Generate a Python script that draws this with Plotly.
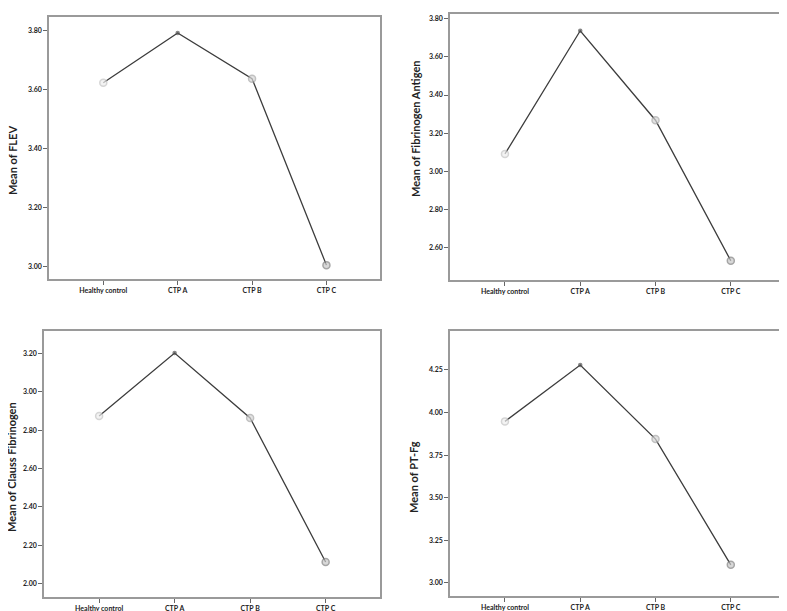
import plotly.graph_objects as go

categories = ["Healthy control", "CTP A", "CTP B", "CTP C"]

flev = [3.622, 3.791, 3.636, 3.004]
fib_antigen = [3.091, 3.737, 3.268, 2.531]
clauss_fib = [2.873, 3.202, 2.863, 2.112]
pt_fg = [3.948, 4.279, 3.844, 3.105]

titles = ["Mean of FLEV", "Mean of Fibrinogen Antigen",
          "Mean of Clauss Fibrinogen", "Mean of PT-Fg"]
series = [flev, fib_antigen, clauss_fib, pt_fg]

W, H = 787, 611
# pixel boxes: (x0, x1, ytop, ybottom)
boxes = [(41, 372, 9, 271), (442, 777, 6, 272), (36, 372, 323, 589), (442, 777, 323, 588)]
yranges = [(2.957, 3.845), (2.43, 3.825), (1.929, 3.317), (2.922, 4.479)]
dticks = [0.2, 0.2, 0.2, 0.25]
title_pos = [(12, 153), (415, 121), (12, 459), (413, 469)]

marker_sizes = [7, 3, 7, 7]
marker_fill = ["#eeeeee", "#555555", "#d8d8d8", "#c8c8c8"]
marker_line = ["#c4c4c4", "#555555", "#a8a8a8", "#808080"]

fig = go.Figure()
font_family = "Lato, Open Sans, sans-serif"

for i, (vals, box, yr, dt) in enumerate(zip(series, boxes, yranges, dticks)):
    n = "" if i == 0 else str(i + 1)
    fig.add_trace(go.Scatter(
        x=categories, y=vals, mode="lines+markers",
        line=dict(color="#3c3c3c", width=1.3),
        marker=dict(size=marker_sizes, color=marker_fill,
                    line=dict(color=marker_line, width=1.5)),
        xaxis="x" + n, yaxis="y" + n, showlegend=False,
    ))
    x0, x1, yt, yb = box
    axcommon = dict(showline=True, linecolor="#9a9a9a", linewidth=1.5, mirror=True,
                    ticks="outside", ticklen=4, tickcolor="#666666", tickwidth=1,
                    showgrid=False, zeroline=False,
                    tickfont=dict(family=font_family, size=7, color="#222222", weight="bold"))
    fig.update_layout(**{
        "xaxis" + n: dict(domain=[x0 / W, x1 / W], anchor="y" + n, type="category",
                          range=[-0.73, 3.72], **axcommon),
        "yaxis" + n: dict(domain=[1 - yb / H, 1 - yt / H], anchor="x" + n,
                          range=list(yr), dtick=dt, tick0=0, tickformat=".2f", **axcommon),
    })
    tx, ty = title_pos[i]
    fig.add_annotation(text=titles[i], x=tx / W, y=1 - ty / H, xref="paper", yref="paper",
                       textangle=-90, showarrow=False, xanchor="center", yanchor="middle",
                       xshift=-8,
                       font=dict(family=font_family, size=11, color="#222222", weight="bold"))

fig.add_shape(type="line", xref="paper", yref="paper", x0=784 / W, x1=784 / W, y0=0, y1=1,
              line=dict(color="#333333", width=1.5))

fig.update_layout(width=W, height=H, autosize=False,
                  margin=dict(l=0, r=0, t=0, b=0),
                  paper_bgcolor="white", plot_bgcolor="white")

fig.write_html("out.html")
